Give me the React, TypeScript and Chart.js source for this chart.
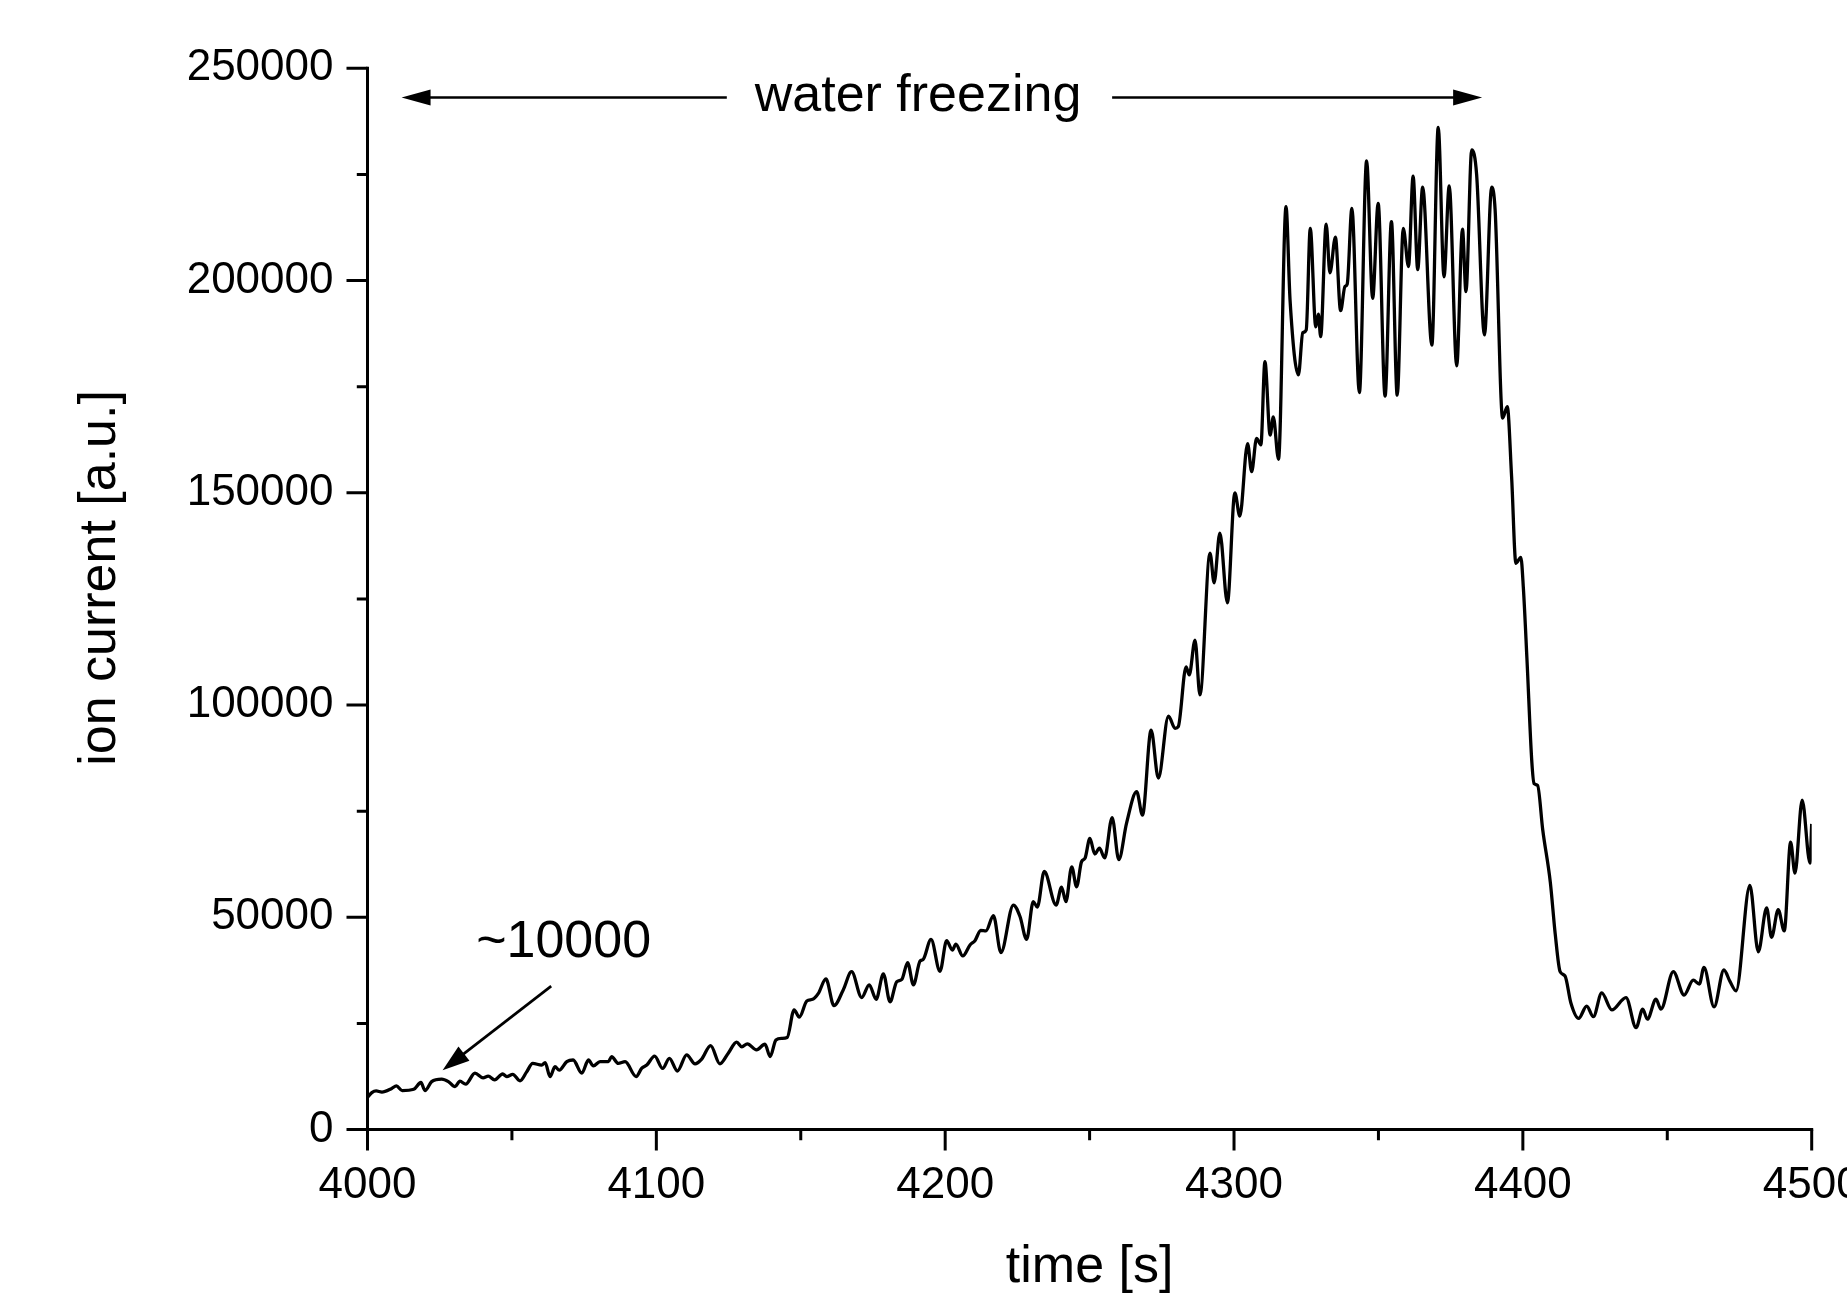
import React, { useEffect, useRef } from 'react';
import { Chart, registerables } from 'chart.js';

Chart.register(...registerables);

// ---- data ----
const timeSeconds: number[] = [
  4000, 4001.5, 4003, 4005, 4008.4, 4010, 4012, 4016, 4018.5, 4019.9,
  4022.2, 4025.7, 4028, 4030.3, 4032, 4034, 4037.2, 4040, 4041.8, 4044,
  4046.8, 4048.2, 4050.3, 4052.8, 4055.1, 4057.2, 4060.3, 4061.5, 4063.2, 4064.9,
  4066.4, 4069, 4071.2, 4074.2, 4076.5, 4078.2, 4080.5, 4083.4, 4084.5, 4086.8,
  4089.2, 4093, 4094.9, 4096.7, 4099.4, 4102.2, 4104.5, 4107.3, 4110.5, 4113.4,
  4115.7, 4118.8, 4122, 4124.9, 4127.8, 4129.6, 4131.5, 4134.7, 4137.6, 4139.4,
  4141.4, 4143.4, 4145.3, 4147.7, 4149.5, 4152.1, 4154.1, 4156.1, 4158.7, 4161.5,
  4164.7, 4167.6, 4171.1, 4173.7, 4176.1, 4178.6, 4180.9, 4183.2, 4185, 4187,
  4189, 4191.3, 4192.4, 4195.1, 4198.2, 4200.5, 4202.5, 4203.7, 4206.1, 4208.6,
  4210.3, 4212.3, 4214.1, 4216.7, 4219.3, 4223.6, 4225.9, 4228.2, 4230.5, 4231.9,
  4234.3, 4238.4, 4240.3, 4241.8, 4243.8, 4245.5, 4247.2, 4248.4, 4250.1, 4251.8,
  4253.4, 4255.2, 4257.8, 4260.1, 4262.8, 4266.3, 4268.3, 4271.3, 4273.8, 4277.3,
  4279.6, 4280.7, 4283.4, 4284.5, 4286.5, 4288.2, 4291.7, 4293.1, 4295.1, 4297.7,
  4300.3, 4302, 4304.7, 4306.1, 4307.8, 4309.3, 4310.7, 4312.5, 4313.6, 4315.4,
  4318, 4319.4, 4322.3, 4323.8, 4325, 4326.4, 4328.3, 4329.2, 4330, 4331.9,
  4333.2, 4335.1, 4336.9, 4338.4, 4339.2, 4340.8, 4343.4, 4345.9, 4348, 4349.9,
  4352.3, 4354.5, 4356.5, 4358.6, 4360.4, 4362, 4363.6, 4365.3, 4368.5, 4370.7,
  4372.7, 4374.5, 4377.1, 4379.1, 4380.3, 4382.3, 4384, 4386.7, 4389.2, 4390.4,
  4393, 4394.6, 4396.1, 4397.6, 4399.3, 4400.2, 4401.4, 4403.1, 4403.9, 4405.1,
  4406.9, 4409.5, 4411.2, 4412.9, 4414.6, 4416.6, 4419.3, 4422.1, 4424.4, 4427.3,
  4430.8, 4435.7, 4439.2, 4441.5, 4443.1, 4446.1, 4447.8, 4452.1, 4455.8, 4459,
  4461.1, 4462.7, 4466.2, 4469.6, 4471.7, 4473.8, 4478.6, 4481.5, 4484.4, 4486.1,
  4488.4, 4490.5, 4492.7, 4494.2, 4496.7, 4499.4, 4500,
];

const ionCurrent: number[] = [
  7600, 8700, 9100, 8850, 9700, 10300, 9200, 9500, 11100, 9200,
  11300, 11900, 11300, 10100, 11400, 10700, 13300, 12200, 12600, 11700,
  13100, 12500, 13000, 11500, 13600, 15600, 15200, 15800, 12500, 14800,
  14000, 16000, 16400, 13300, 16400, 15000, 16000, 16000, 17200, 15600,
  16000, 12500, 14400, 15200, 17300, 14400, 16800, 13800, 17600, 15500,
  16600, 19800, 15500, 18000, 20600, 19500, 20200, 18800, 20100, 17200,
  21100, 21500, 21700, 28200, 26500, 30300, 30700, 32100, 35500, 29200,
  32900, 37200, 31100, 34100, 30700, 36700, 30100, 34800, 35400, 39300,
  34100, 39700, 40100, 44800, 37300, 44500, 42300, 43700, 40900, 43500,
  44500, 46900, 46800, 50400, 41700, 52900, 50200, 44800, 53700, 52400,
  60800, 52900, 57100, 53700, 61900, 57200, 63100, 63900, 68600, 64900,
  66300, 64000, 73500, 63600, 72200, 79600, 74100, 94100, 82800, 97400,
  94500, 94900, 109000, 107100, 115300, 102400, 135800, 128800, 140500, 124100,
  150000, 144500, 161600, 155000, 162800, 161300, 180900, 163600, 167900, 157900,
  217400, 195400, 177800, 187700, 188400, 212300, 189100, 192100, 186800, 213300,
  201800, 210200, 192900, 198600, 199200, 217000, 173600, 228200, 195800, 218200,
  172800, 213900, 173000, 212300, 203300, 224600, 202600, 222000, 184800, 236100,
  200900, 222300, 179900, 212100, 197400, 230800, 224900, 187200, 222000, 216600,
  167600, 170300, 153800, 133400, 134800, 127300, 111100, 86700, 81500, 81100,
  70500, 58300, 46100, 37200, 36200, 29900, 26200, 29100, 26600, 32200,
  28200, 31100, 24000, 28400, 26000, 30700, 28400, 37200, 31700, 35200,
  34300, 38200, 28900, 37600, 34900, 32700, 57500, 41900, 52200, 45300,
  51800, 46800, 67700, 60400, 77600, 62800, 72000,
];

// axis ranges and tick steps
const X_MIN = 4000;
const X_MAX = 4500;
const Y_MIN = 0;
const Y_MAX = 250000;
const X_MAJOR_STEP = 100;
const X_MINOR_STEP = 50;
const Y_MAJOR_STEP = 50000;
const Y_MINOR_STEP = 25000;

// texts
const xTitle = 'time [s]';
const yTitle = 'ion current [a.u.]';
const spanLabel = 'water freezing';
const baselineLabel = '~10000';

// annotation anchors in data units
const spanLabelAt = { x: 4190.6, y: 240000 };
const spanArrowY = 243100;
const spanArrowLeft = { from: 4124.4, to: 4011.8 };
const spanArrowRight = { from: 4257.8, to: 4385.9 };
const baselineLabelAt = { x: 4067.9, y: 40650 };
const baselineArrow = { fromX: 4063.6, fromY: 33800, toX: 4026, toY: 14000 };

const FONT = '"Liberation Sans", Arial, Helvetica, sans-serif';
const TITLE_SIZE = 52;
const TICK_SIZE = 44;

function drawArrow(
  ctx: CanvasRenderingContext2D,
  x1: number, y1: number, x2: number, y2: number,
  headLen: number, headHalf: number, lw: number,
) {
  const ang = Math.atan2(y2 - y1, x2 - x1);
  const c = Math.cos(ang);
  const s = Math.sin(ang);
  const bx = x2 - headLen * c;
  const by = y2 - headLen * s;
  ctx.beginPath();
  ctx.moveTo(x1, y1);
  ctx.lineTo(bx + 2 * c, by + 2 * s);
  ctx.lineWidth = lw;
  ctx.stroke();
  ctx.beginPath();
  ctx.moveTo(x2, y2);
  ctx.lineTo(bx + headHalf * s, by - headHalf * c);
  ctx.lineTo(bx - headHalf * s, by + headHalf * c);
  ctx.closePath();
  ctx.fill();
}

const framePlugin = {
  id: 'originFrame',
  afterDraw(chart: any) {
    const ctx: CanvasRenderingContext2D = chart.ctx;
    const xs = chart.scales.x;
    const ys = chart.scales.y;
    const area = chart.chartArea;
    const left = xs.getPixelForValue(X_MIN);
    const right = xs.getPixelForValue(X_MAX);
    const bottom = ys.getPixelForValue(Y_MIN);
    const top = ys.getPixelForValue(Y_MAX);
    ctx.save();
    ctx.strokeStyle = '#000';
    ctx.fillStyle = '#000';
    ctx.lineCap = 'butt';

    // axis lines
    ctx.lineWidth = 3;
    ctx.beginPath();
    ctx.moveTo(left, top - 1.5);
    ctx.lineTo(left, bottom + 1.5);
    ctx.moveTo(left - 1.5, bottom);
    ctx.lineTo(right + 1.5, bottom);
    ctx.stroke();

    // ticks (outside)
    ctx.lineWidth = 3;
    ctx.beginPath();
    for (let t = X_MIN; t <= X_MAX; t += X_MINOR_STEP) {
      const px = xs.getPixelForValue(t);
      const len = t % X_MAJOR_STEP === 0 ? 21 : 10.7;
      ctx.moveTo(px, bottom);
      ctx.lineTo(px, bottom + len);
    }
    for (let v = Y_MIN; v <= Y_MAX; v += Y_MINOR_STEP) {
      const py = ys.getPixelForValue(v);
      const len = v % Y_MAJOR_STEP === 0 ? 21 : 10.7;
      ctx.moveTo(left, py);
      ctx.lineTo(left - len, py);
    }
    ctx.stroke();

    // y title
    ctx.font = `${TITLE_SIZE}px ${FONT}`;
    ctx.textAlign = 'center';
    ctx.textBaseline = 'middle';
    ctx.save();
    ctx.translate(area.left - 266.5, (area.top + area.bottom) / 2 - 21);
    ctx.rotate(-Math.PI / 2);
    ctx.fillText(yTitle, 0, 0);
    ctx.restore();

    // water freezing span
    ctx.textBaseline = 'alphabetic';
    ctx.fillText(spanLabel, xs.getPixelForValue(spanLabelAt.x), ys.getPixelForValue(spanLabelAt.y));
    const ay = ys.getPixelForValue(spanArrowY);
    drawArrow(ctx, xs.getPixelForValue(spanArrowLeft.from), ay, xs.getPixelForValue(spanArrowLeft.to), ay, 29, 8, 2.5);
    drawArrow(ctx, xs.getPixelForValue(spanArrowRight.from), ay, xs.getPixelForValue(spanArrowRight.to), ay, 29, 8, 2.5);

    // ~10000 label and arrow
    ctx.fillText(baselineLabel, xs.getPixelForValue(baselineLabelAt.x), ys.getPixelForValue(baselineLabelAt.y));
    drawArrow(
      ctx,
      xs.getPixelForValue(baselineArrow.fromX), ys.getPixelForValue(baselineArrow.fromY),
      xs.getPixelForValue(baselineArrow.toX), ys.getPixelForValue(baselineArrow.toY),
      27, 9, 2.7,
    );
    ctx.restore();
  },
};

export default function App() {
  const canvasRef = useRef<HTMLCanvasElement | null>(null);

  useEffect(() => {
    if (!canvasRef.current) return;
    const points = timeSeconds.map((t, i) => ({ x: t, y: ionCurrent[i] }));
    const chart = new Chart(canvasRef.current, {
      type: 'line',
      data: {
        datasets: [
          {
            label: 'ion current',
            data: points,
            borderColor: '#000',
            borderWidth: 3.3,
            pointRadius: 0,
            fill: false,
            cubicInterpolationMode: 'monotone',
          },
        ],
      },
      options: {
        animation: false,
        responsive: true,
        maintainAspectRatio: false,
        layout: { padding: { top: 68.3, right: 35.3, left: 0, bottom: 0 } },
        plugins: {
          legend: { display: false },
          tooltip: { enabled: false },
        },
        scales: {
          x: {
            type: 'linear',
            min: X_MIN,
            max: X_MAX,
            grid: { display: false, drawTicks: false },
            border: { display: false },
            ticks: {
              stepSize: X_MAJOR_STEP,
              autoSkip: false,
              maxRotation: 0,
              padding: 29.5,
              color: '#000',
              font: { family: FONT, size: TICK_SIZE },
              callback: (v: any) => String(v),
            },
            title: {
              display: true,
              text: xTitle,
              color: '#000',
              font: { family: FONT, size: TITLE_SIZE, lineHeight: 1 },
              padding: { top: 0, bottom: 1 },
            },
            afterFit: (s: any) => {
              s.height = 165.4;
              s.paddingLeft = 0;
              s.paddingRight = 0;
            },
          },
          y: {
            type: 'linear',
            min: Y_MIN,
            max: Y_MAX,
            grid: { display: false, drawTicks: false },
            border: { display: false },
            ticks: {
              stepSize: Y_MAJOR_STEP,
              padding: 34,
              color: '#000',
              font: { family: FONT, size: TICK_SIZE },
              callback: (v: any) => String(v),
            },
            afterFit: (s: any) => {
              s.width = 367.5;
              s.paddingTop = 0;
              s.paddingBottom = 0;
            },
          },
        },
      },
      plugins: [framePlugin],
    } as any);
    return () => chart.destroy();
  }, []);

  return (
    <div
      style={{
        position: 'absolute',
        left: 0,
        top: 0,
        width: 1847,
        height: 1295,
        background: '#fff',
        overflow: 'hidden',
      }}
    >
      <canvas ref={canvasRef} />
    </div>
  );
}
